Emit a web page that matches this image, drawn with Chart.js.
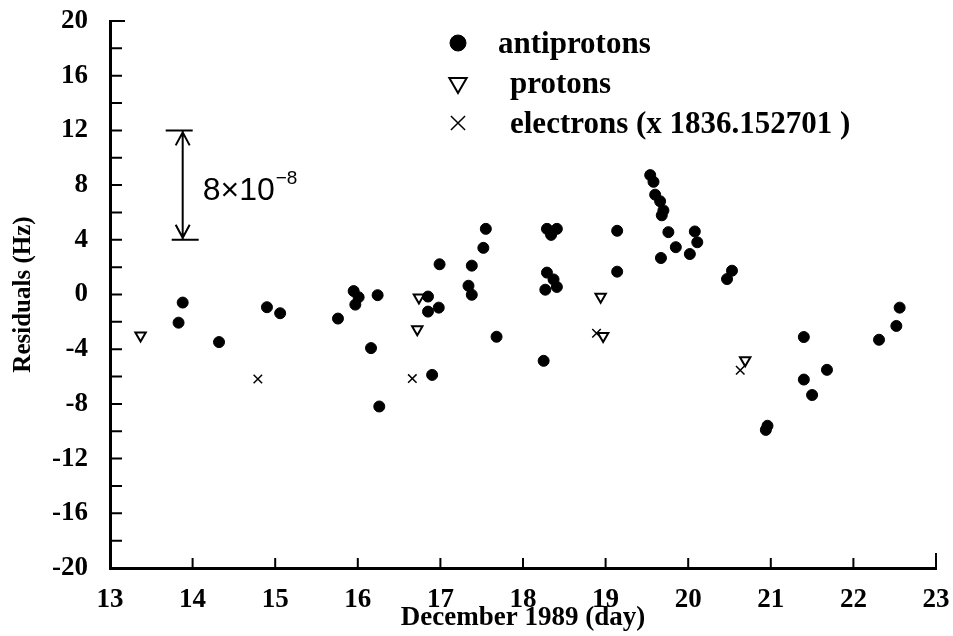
<!DOCTYPE html>
<html>
<head>
<meta charset="utf-8">
<script src="https://cdn.jsdelivr.net/npm/chart.js@4.4.0/dist/chart.umd.min.js"></script>
<style>
html, body { margin: 0; padding: 0; background: #fff; }
#wrap { width: 953px; height: 636px; }
</style>
</head>
<body>
<div id="wrap"><canvas id="residuals"></canvas></div>
<script>
// values (day of December 1989, residual in Hz)
const antiprotonDays = [13.83, 13.88, 14.32, 14.90, 15.06, 15.76, 15.95, 16.01, 15.97, 16.24, 16.16, 16.26,
    16.85, 16.85, 16.98, 16.90, 16.99, 17.34, 17.38, 17.38, 17.52, 17.55, 17.68,
    18.25, 18.27, 18.41, 18.29, 18.37, 18.29, 18.41, 18.34, 19.14, 19.14,
    19.54, 19.58, 19.60, 19.66, 19.70, 19.68, 19.76, 19.85, 19.67, 20.08, 20.11, 20.02,
    20.53, 20.47, 20.94, 20.96, 21.40, 21.40, 21.50, 21.68, 22.31, 22.52, 22.56];
const antiprotonResiduals = [-2.06, -0.59, -3.48, -0.93, -1.37, -1.76, 0.25, -0.2, -0.74, -0.05, -3.92, -8.19,
    -0.15, -1.25, -0.96, -5.88, 2.21, 0.64, -0.02, 2.11, 3.41, 4.8, -3.09,
    -4.85, 0.35, 0.55, 1.6, 1.1, 4.8, 4.8, 4.36, 4.66, 1.67,
    8.73, 8.24, 7.3, 6.82, 6.15, 5.79, 4.56, 3.46, 2.67, 4.61, 3.82, 2.96,
    1.74, 1.13, -9.9, -9.6, -3.11, -6.22, -7.35, -5.51, -3.31, -2.3, -0.96];

const protonDays = [13.37, 16.72, 16.74, 18.94, 18.97, 20.69];
const protonResiduals = [-3.0, -2.55, -0.22, -0.17, -3.04, -4.8];

const electronDays = [14.79, 16.66, 18.89, 20.63];
const electronResiduals = [-6.18, -6.15, -2.84, -5.54];

const xTickValues = [13, 14, 15, 16, 17, 18, 19, 20, 21, 22, 23];
const yTickValues = [20, 16, 12, 8, 4, 0, -4, -8, -12, -16, -20];
const yMinorTicks = [18, 14, 10, 6, 2, -2, -6, -10, -14, -18];

const legendLabels = ['antiprotons', 'protons', 'electrons (x 1836.152701 )'];

// scale bar: 8 x 10^-8 spans 4..12 Hz
const scaleBarDay = 13.88;
const scaleBarFrom = 4;
const scaleBarTo = 12;

const serif = '"Liberation Serif", "Times New Roman", serif';

function pairs(xs, ys) {
    return xs.map((d, i) => ({ x: d, y: ys[i] }));
}

const paperDecor = {
    id: 'paperDecor',
    afterDraw(chart) {
        const { ctx, chartArea: a, scales: { x, y } } = chart;
        ctx.save();
        ctx.strokeStyle = '#000';
        ctx.fillStyle = '#000';

        // inward ticks
        ctx.lineWidth = 2;
        ctx.beginPath();
        yTickValues.concat(yMinorTicks).forEach(v => {
            if (v === -20) return;
            const py = y.getPixelForValue(v);
            ctx.moveTo(a.left, py);
            ctx.lineTo(a.left + (v === 20 ? 15 : 12), py);
        });
        xTickValues.forEach(d => {
            if (d === 13) return;
            const px = x.getPixelForValue(d);
            ctx.moveTo(px, a.bottom);
            ctx.lineTo(px, a.bottom - (d === 23 ? 15 : 10));
        });
        ctx.stroke();

        // scale bar with arrows
        const bx = x.getPixelForValue(scaleBarDay);
        const top = y.getPixelForValue(scaleBarTo);
        const bot = y.getPixelForValue(scaleBarFrom);
        ctx.lineWidth = 2;
        ctx.beginPath();
        ctx.moveTo(bx - 17, top); ctx.lineTo(bx + 10, top);
        ctx.moveTo(bx - 11, bot); ctx.lineTo(bx + 16, bot);
        ctx.moveTo(bx, top + 1); ctx.lineTo(bx, bot - 1);
        ctx.moveTo(bx - 7, top + 15); ctx.lineTo(bx, top + 2); ctx.lineTo(bx + 7, top + 15);
        ctx.moveTo(bx - 7, bot - 15); ctx.lineTo(bx, bot - 2); ctx.lineTo(bx + 7, bot - 15);
        ctx.stroke();

        ctx.textAlign = 'left';
        ctx.textBaseline = 'alphabetic';
        ctx.font = '32px "Liberation Sans", Arial, sans-serif';
        const tx = bx + 20;
        const ty = (top + bot) / 2 + 15;
        ctx.fillText('8\u00d710', tx, ty);
        const w = ctx.measureText('8\u00d710').width;
        ctx.font = '19px "Liberation Sans", Arial, sans-serif';
        ctx.fillText('\u2212' + '8', tx + w + 1, ty - 16);

        // legend inside the plot
        const lx = a.left + 348;
        const rows = [a.top + 22, a.top + 62, a.top + 102];
        const textX = [a.left + 388, a.left + 400, a.left + 400];
        chart.data.datasets.forEach((ds, i) => {
            ctx.strokeStyle = ds.borderColor;
            ctx.fillStyle = ds.backgroundColor;
            ctx.lineWidth = ds.borderWidth;
            Chart.helpers.drawPoint(ctx, {
                pointStyle: ds.pointStyle,
                rotation: ds.rotation || 0,
                radius: i === 0 ? 8 : 10,
                borderWidth: ds.borderWidth
            }, lx, rows[i]);
            ctx.fillStyle = '#000';
            ctx.font = 'bold 31px ' + serif;
            ctx.textBaseline = 'middle';
            ctx.fillText(legendLabels[i], textX[i], rows[i] + 2);
        });
        ctx.restore();
    }
};

Chart.defaults.color = '#000';

const canvas = document.querySelector('#residuals');
const residualChart = new Chart(canvas, {
    type: 'scatter',
    data: {
        datasets: [
            {
                label: legendLabels[0],
                data: pairs(antiprotonDays, antiprotonResiduals),
                pointStyle: 'circle',
                radius: 5.5,
                backgroundColor: '#000',
                borderColor: '#000',
                borderWidth: 1
            },
            {
                label: legendLabels[1],
                data: pairs(protonDays, protonResiduals),
                pointStyle: 'triangle',
                rotation: 180,
                radius: 6,
                backgroundColor: '#fff',
                borderColor: '#000',
                borderWidth: 2
            },
            {
                label: legendLabels[2],
                data: pairs(electronDays, electronResiduals),
                pointStyle: 'crossRot',
                radius: 6,
                backgroundColor: '#000',
                borderColor: '#000',
                borderWidth: 1.5
            }
        ]
    },
    options: {
        responsive: true,
        maintainAspectRatio: false,
        animation: false,
        layout: { padding: { top: 21, right: 17, left: 0, bottom: 0 } },
        plugins: {
            legend: { display: false },
            tooltip: { enabled: false }
        },
        scales: {
            x: {
                type: 'linear',
                min: 13,
                max: 23,
                afterFit: s => {
                    s.height = 68;
                    s.paddingLeft = 0;
                    s.paddingRight = 0;
                },
                afterBuildTicks: s => { s.ticks = xTickValues.map(v => ({ value: v })); },
                grid: { display: false, drawTicks: false },
                border: { display: true, color: '#000', width: 3 },
                ticks: {
                    padding: 16,
                    font: { family: serif, size: 27, weight: 'bold' },
                    maxRotation: 0
                },
                title: {
                    display: true,
                    text: 'December 1989 (day)',
                    font: { family: serif, size: 27, weight: 'bold' },
                    padding: { top: 0, bottom: 2 }
                }
            },
            y: {
                min: -20,
                max: 20,
                afterFit: s => {
                    s.width = 110;
                    s.paddingTop = 0;
                    s.paddingBottom = 0;
                },
                afterBuildTicks: s => { s.ticks = yTickValues.map(v => ({ value: v })); },
                grid: { display: false, drawTicks: false },
                border: { display: true, color: '#000', width: 3 },
                ticks: {
                    padding: 22,
                    font: { family: serif, size: 27, weight: 'bold' }
                },
                title: {
                    display: true,
                    text: 'Residuals (Hz)',
                    font: { family: serif, size: 25, weight: 'bold' },
                    padding: { top: 9, bottom: 0 }
                }
            }
        }
    },
    plugins: [paperDecor]
});
</script>
</body>
</html>
